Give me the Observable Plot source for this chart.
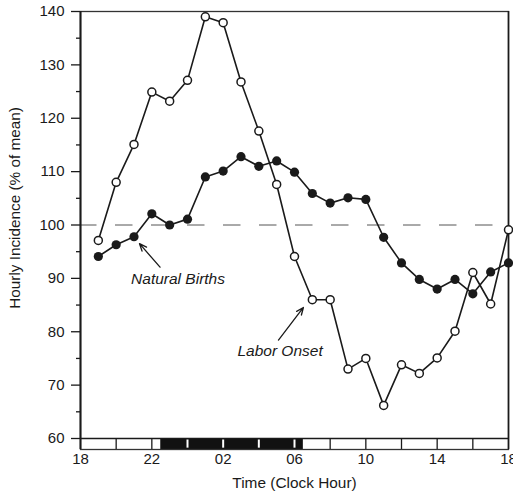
<!DOCTYPE html>
<html>
<head>
<meta charset="utf-8">
<script src="https://cdn.jsdelivr.net/npm/d3@7"></script>
<script src="https://cdn.jsdelivr.net/npm/@observablehq/plot@0.6"></script>
<style>
  html, body { margin: 0; padding: 0; background: #fff; }
</style>
</head>
<body>
<div id="chart"></div>
<script>
// Hours elapsed since 18:00 (clock hours 19, 20, ..., 23, 00, 01, ..., 18)
const hoursAfter18 = [1,2,3,4,5,6,7,8,9,10,11,12,13,14,15,16,17,18,19,20,21,22,23,24];
const naturalBirths = [94.1, 96.3, 97.8, 102.1, 100, 101.1, 109, 110.1, 112.8, 111, 112, 109.9,
                       105.9, 104.1, 105.1, 104.8, 97.7, 92.9, 89.8, 88.0, 89.8, 87.1, 91.2, 92.9];
const laborOnset = [97.1, 108, 115.1, 124.9, 123.2, 127.1, 139, 137.9, 126.8, 117.6, 107.6, 94.1,
                    86.0, 86.0, 73.0, 75.0, 66.2, 73.8, 72.2, 75.1, 80.1, 91.1, 85.2, 99.1];

const xTickPositions = [0, 4, 8, 12, 16, 20, 24];
const xTickLabels = ["18", "22", "02", "06", "10", "14", "18"];
const yTicks = [60, 70, 80, 90, 100, 110, 120, 130, 140];
const yMinorTicks = [65, 75, 85, 95, 105, 115, 125, 135];
const meanLevel = [100];

// Light/dark bar (hours after 18:00)
const photoperiod = [
  {from: 0, to: 4.5, dark: false},
  {from: 4.5, to: 12.5, dark: true},
  {from: 12.5, to: 24, dark: false}
];
const barDividers = [2, 4, 6, 8, 10, 12, 14, 16, 18, 20, 22];

const annotations = [
  {label: "Natural Births", x: 5.47, y: 89.8, fromX: 4.46, fromY: 92.1, toX: 3.31, toY: 96.5},
  {label: "Labor Onset", x: 11.19, y: 76.3, fromX: 11.1, fromY: 78.45, toX: 12.5, toY: 84.55}
];

const nb = hoursAfter18.map((h, i) => ({h, v: naturalBirths[i]}));
const lo = hoursAfter18.map((h, i) => ({h, v: laborOnset[i]}));

const W = 513, H = 495, mTop = 11, mBottom = 46, mLeft = 80, mRight = 5;
const barPx = 11;
const pxPerUnit = (H - mTop - mBottom - barPx) / (140 - 60);
const yMin = 60 - barPx / pxPerUnit;
const isDark = d => photoperiod.some(p => p.dark && d > p.from && d < p.to);

const ink = "#1a1a1a";
const font = "'Liberation Sans', Arial, Helvetica, sans-serif";

const chart = Plot.plot({
  width: W, height: H,
  marginTop: mTop, marginBottom: mBottom, marginLeft: mLeft, marginRight: mRight,
  style: {fontFamily: font, fontSize: "15px", color: ink, background: "#fff"},
  x: {domain: [0, 24]},
  y: {domain: [yMin, 140]},
  marks: [
    Plot.ruleY(meanLevel, {x1: 0, x2: 24, stroke: "#555", strokeWidth: 1, strokeDasharray: "17.5,18.5", strokeDashoffset: 1}),
    // light-dark bar
    Plot.rect(photoperiod, {x1: "from", x2: "to", y1: yMin, y2: 60, fill: d => d.dark ? "#111" : "#fff"}),
    Plot.ruleX(barDividers.filter(d => !isDark(d)), {y1: yMin, y2: 60, stroke: ink, strokeWidth: 1.3}),
    Plot.ruleX(barDividers.filter(isDark), {y1: yMin + 0.25, y2: 60 - 0.25, stroke: "#fff", strokeWidth: 2}),
    Plot.ruleY([60], {x1: 0, x2: 24, stroke: ink, strokeWidth: 1.3}),
    Plot.frame({stroke: "#333", strokeWidth: 1.3}),
    Plot.ruleX([0], {y1: yMin, y2: 140, stroke: ink, strokeWidth: 2}),
    Plot.ruleX([24], {y1: yMin, y2: 140, stroke: ink, strokeWidth: 1.6}),
    // axes
    Plot.axisY(yTicks, {tickSize: 9, tickPadding: 7, fontSize: 15, label: null, strokeWidth: 1.3}),
    Plot.axisY(yMinorTicks, {tickSize: 4, tickFormat: () => "", label: null, strokeWidth: 1.3}),
    Plot.axisX(xTickPositions, {tickSize: 0, tickPadding: 4, fontSize: 15, label: null,
      tickFormat: d => xTickLabels[xTickPositions.indexOf(d)]}),
    Plot.text(["Hourly Incidence (% of mean)"], {frameAnchor: "left", rotate: -90, dx: -65, dy: -22.5,
      textAnchor: "middle", lineAnchor: "middle", fontSize: 15.3}),
    Plot.text(["Time (Clock Hour)"], {frameAnchor: "bottom", dy: 34, textAnchor: "middle",
      lineAnchor: "middle", fontSize: 15.4}),
    // series
    Plot.line(lo, {x: "h", y: "v", stroke: ink, strokeWidth: 1.6}),
    Plot.line(nb, {x: "h", y: "v", stroke: ink, strokeWidth: 1.6}),
    Plot.dot(lo, {x: "h", y: "v", r: 4, fill: "#fff", stroke: ink, strokeWidth: 1.5}),
    Plot.dot(nb, {x: "h", y: "v", r: 4.6, fill: ink, stroke: "none"}),
    // annotations
    Plot.arrow(annotations, {x1: "fromX", y1: "fromY", x2: "toX", y2: "toY", stroke: ink,
      strokeWidth: 1.3, headLength: 9, headAngle: 45}),
    Plot.text(annotations, {x: "x", y: "y", text: "label", fontStyle: "italic", fontSize: 15.5, fill: ink})
  ]
});
document.getElementById("chart").appendChild(chart);
</script>
</body>
</html>
